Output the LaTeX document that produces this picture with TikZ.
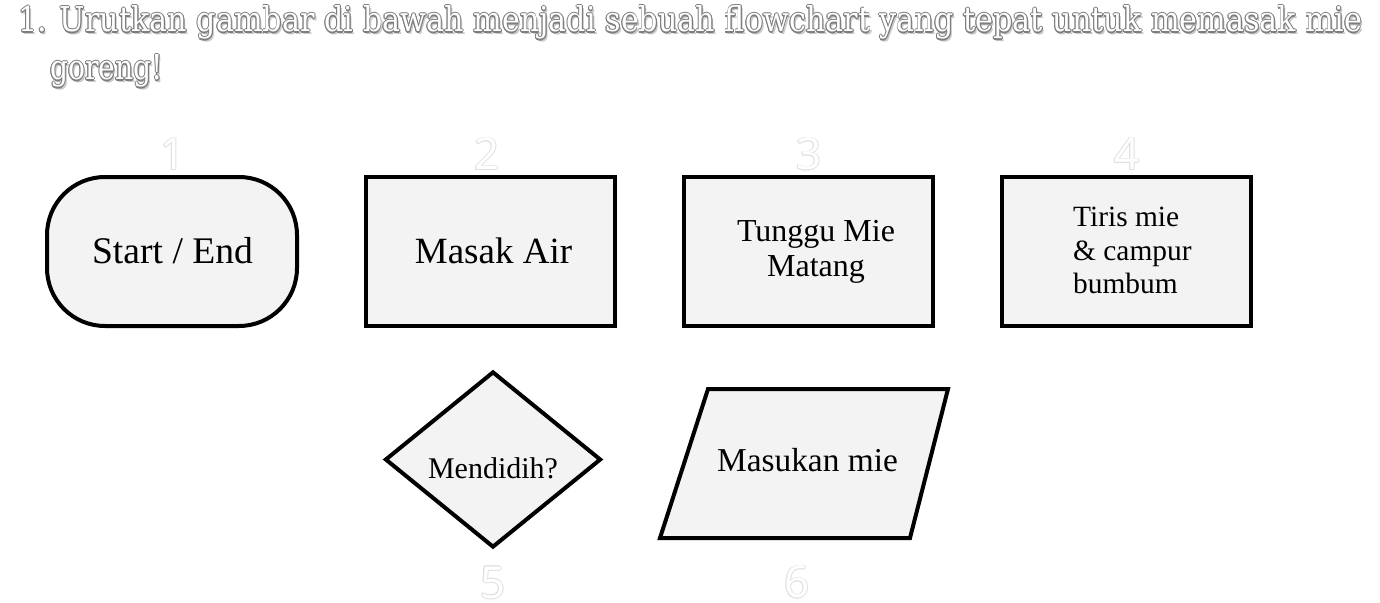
\documentclass[tikz,border=0pt]{standalone}
\usepackage{fontspec}
\setmainfont{Liberation Serif}
\newfontfamily\titlefont{DejaVu Serif}
\newfontfamily\numfont{Open Sans}
\usetikzlibrary{shapes.geometric}
\definecolor{boxfill}{HTML}{F3F3F3}
\definecolor{numline}{HTML}{E0E0E0}
\definecolor{titleline}{HTML}{7E7E7E}
\definecolor{titleshadow}{HTML}{C9C9C9}
\newcommand\olcopy[4]{\rlap{\kern#1\relax\raisebox{#2}{\color{#3}#4}}}
\newcommand\ringtext[4]{%
 \olcopy{#2}{0pt}{#1}{#4}\olcopy{-#2}{0pt}{#1}{#4}\olcopy{0pt}{#2}{#1}{#4}\olcopy{0pt}{-#2}{#1}{#4}%
 \olcopy{#3}{#3}{#1}{#4}\olcopy{-#3}{#3}{#1}{#4}\olcopy{#3}{-#3}{#1}{#4}\olcopy{-#3}{-#3}{#1}{#4}%
 {\color{white}#4}}
\newcommand\titletext[1]{\olcopy{2pt}{-2pt}{titleshadow}{#1}\ringtext{titleline}{0.9pt}{0.64pt}{#1}}
\newcommand\numtext[1]{\ringtext{numline}{0.7pt}{0.5pt}{#1}}
\tikzset{
 shapebox/.style={draw=black, line width=4pt, fill=boxfill, inner sep=0pt},
 termbox/.style={shapebox, rectangle, rounded corners=58pt, minimum width=250pt, minimum height=149pt},
 procbox/.style={shapebox, rectangle, minimum width=249pt, minimum height=149pt},
 decbox/.style={shapebox, diamond, minimum width=216pt, minimum height=176pt},
 shapepath/.style={draw=black, line width=4pt, fill=boxfill},
 lbl/.style={inner sep=0pt, anchor=base, text=black},
 numlbl/.style={inner sep=0pt, font=\numfont\fontsize{44}{44}\selectfont},
 titlelbl/.style={inner sep=0pt, anchor=base west, font=\titlefont\fontsize{30}{36}\selectfont},
}
\begin{document}
\begin{tikzpicture}[x=1pt,y=-1pt]
\useasboundingbox (0,0) rectangle (1380,602);
% title
\node[titlelbl] (title1) at (18,32) {\resizebox{1344pt}{27pt}{\titletext{1. Urutkan gambar di bawah menjadi sebuah flowchart yang tepat untuk memasak mie}}};
\node[titlelbl] (title2) at (50,80) {\resizebox{113pt}{26pt}{\titletext{goreng!}}};
% numbers
\node[numlbl] (n1) at (173,154) {\numtext{1}};
\node[numlbl] (n2) at (487,154) {\numtext{2}};
\node[numlbl] (n3) at (809,154) {\numtext{3}};
\node[numlbl] (n4) at (1127,154) {\numtext{4}};
\node[numlbl] (n5) at (493,583) {\numtext{5}};
\node[numlbl] (n6) at (797,582) {\numtext{6}};
% shapes
\node[termbox] (s1) at (172,251.5) {};
\node[procbox] (s2) at (490.5,251.5) {};
\node[procbox] (s3) at (808.5,251.5) {};
\node[procbox] (s4) at (1126.5,251.5) {};
\node[decbox] (s5) at (493,459.5) {};
\coordinate (p1) at (708,389);
\coordinate (p2) at (948,389);
\coordinate (p3) at (910,538);
\coordinate (p4) at (660,538);
\draw[shapepath] (p1) -- (p2) -- (p3) -- (p4) -- cycle;
% texts
\node[lbl, font=\fontsize{37.6}{40}\selectfont] (t1) at (172.5,263.5) {Start / End};
\node[lbl, font=\fontsize{37}{40}\selectfont] (t2) at (493.5,263.5) {Masak Air};
\node[lbl, align=center, font=\fontsize{32}{35.7}\selectfont] (t3) at (816,276.7) {Tunggu Mie\\Matang};
\node[lbl, anchor=base west, align=left, font=\fontsize{29.4}{33.3}\selectfont] (t4) at (1073,293.3) {Tiris mie\\\& campur\\bumbum};
\node[lbl, font=\fontsize{30}{33}\selectfont] (t5) at (493,478.3) {Mendidih?};
\node[lbl, font=\fontsize{33.4}{36}\selectfont] (t6) at (807.5,471.7) {Masukan mie};
\end{tikzpicture}
\end{document}
